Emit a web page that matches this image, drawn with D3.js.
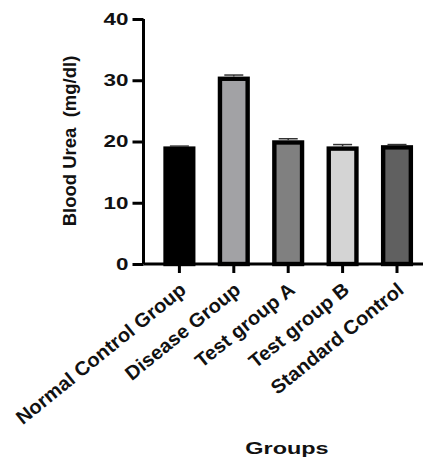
<!DOCTYPE html>
<html>
<head>
<meta charset="utf-8">
<script src="https://cdn.jsdelivr.net/npm/d3@7"></script>
<style>
  html, body { margin: 0; padding: 0; background: #fff; }
  svg { display: block; }
  text { font-family: "Liberation Sans", Arial, sans-serif; font-weight: bold; fill: #111; white-space: pre; }
</style>
</head>
<body>
<svg id="chart" width="423" height="461"></svg>
<script>
const categories = ["Normal Control Group", "Disease Group", "Test group A", "Test group B", "Standard Control"];
const values = [19.2, 30.6, 20.2, 19.2, 19.4];
const errors = [0.05, 0.25, 0.25, 0.3, 0.1];
const fills = ["#000000", "#a2a2a5", "#808080", "#d4d4d4", "#606060"];
const yTicks = [0, 10, 20, 30, 40];
const yLabel = "Blood Urea  (mg/dl)";
const xLabel = "Groups";

const svg = d3.select("#chart");
const W = 423, H = 461;
const axisX = 143.5, axisY = 264;

const y = d3.scaleLinear().domain([0, 40]).range([264, 19]);
const x = d3.scaleBand().domain(categories).range([152.2, 424.2]).paddingInner(0.41).paddingOuter(0.205);

const sw = 4.4;
// bars (stroke drawn inside)
svg.append("g").selectAll("rect").data(categories).join("rect")
  .attr("x", d => x(d) + sw / 2)
  .attr("y", (d, i) => y(values[i]) + sw / 2)
  .attr("width", x.bandwidth() - sw)
  .attr("height", (d, i) => y(0) - y(values[i]) - sw / 2)
  .attr("fill", (d, i) => fills[i])
  .attr("stroke", "#000")
  .attr("stroke-width", sw);

// error bars
const eg = svg.append("g").attr("stroke", "#333").attr("stroke-width", 1.5);
categories.forEach((c, i) => {
  const cx = x(c) + x.bandwidth() / 2;
  eg.append("line").attr("x1", cx).attr("x2", cx).attr("y1", y(values[i])).attr("y2", y(values[i] + errors[i]));
  eg.append("line").attr("x1", cx - 9.5).attr("x2", cx + 9.5).attr("y1", y(values[i] + errors[i])).attr("y2", y(values[i] + errors[i]));
});

// y axis
const yAxis = svg.append("g").attr("transform", `translate(${axisX},0)`)
  .call(d3.axisLeft(y).tickValues(yTicks).tickSize(11).tickPadding(4));
yAxis.select(".domain").attr("d", `M0,${y(40)}V${y(0)}`).attr("stroke", "#000").attr("stroke-width", 3);
yAxis.selectAll(".tick line").attr("stroke", "#000").attr("stroke-width", 3);
yAxis.selectAll(".tick text")
  .attr("font-size", 16.5).attr("font-family", "Liberation Sans, Arial, sans-serif").attr("font-weight", "bold").attr("fill", "#111")
  .attr("transform", "translate(-15,0) scale(1.36,1) translate(15,0)");

// x axis
const xAxis = svg.append("g").attr("transform", `translate(0,${axisY})`)
  .call(d3.axisBottom(x).tickSize(9).tickFormat(""));
xAxis.select(".domain").attr("d", `M${axisX},0H${W}`).attr("stroke", "#000").attr("stroke-width", 3);
xAxis.selectAll(".tick line").attr("stroke", "#000").attr("stroke-width", 3);

// rotated category labels
svg.append("g").selectAll("text").data(categories).join("text")
  .attr("transform", d => `translate(${x(d) + x.bandwidth() / 2 + 8},${axisY + 28}) rotate(-39) scale(1.03,1)`)
  .attr("text-anchor", "end")
  .attr("font-size", 19.5)
  .text(d => d);

// y label
svg.append("text")
  .attr("transform", `translate(76,141) rotate(-90)`)
  .attr("text-anchor", "middle")
  .attr("font-size", 18.5)
  .text(yLabel);

// x label
svg.append("text")
  .attr("transform", `translate(287,453.5) scale(1.42,1)`)
  .attr("text-anchor", "middle")
  .attr("font-size", 16.5)
  .text(xLabel);
</script>
</body>
</html>
